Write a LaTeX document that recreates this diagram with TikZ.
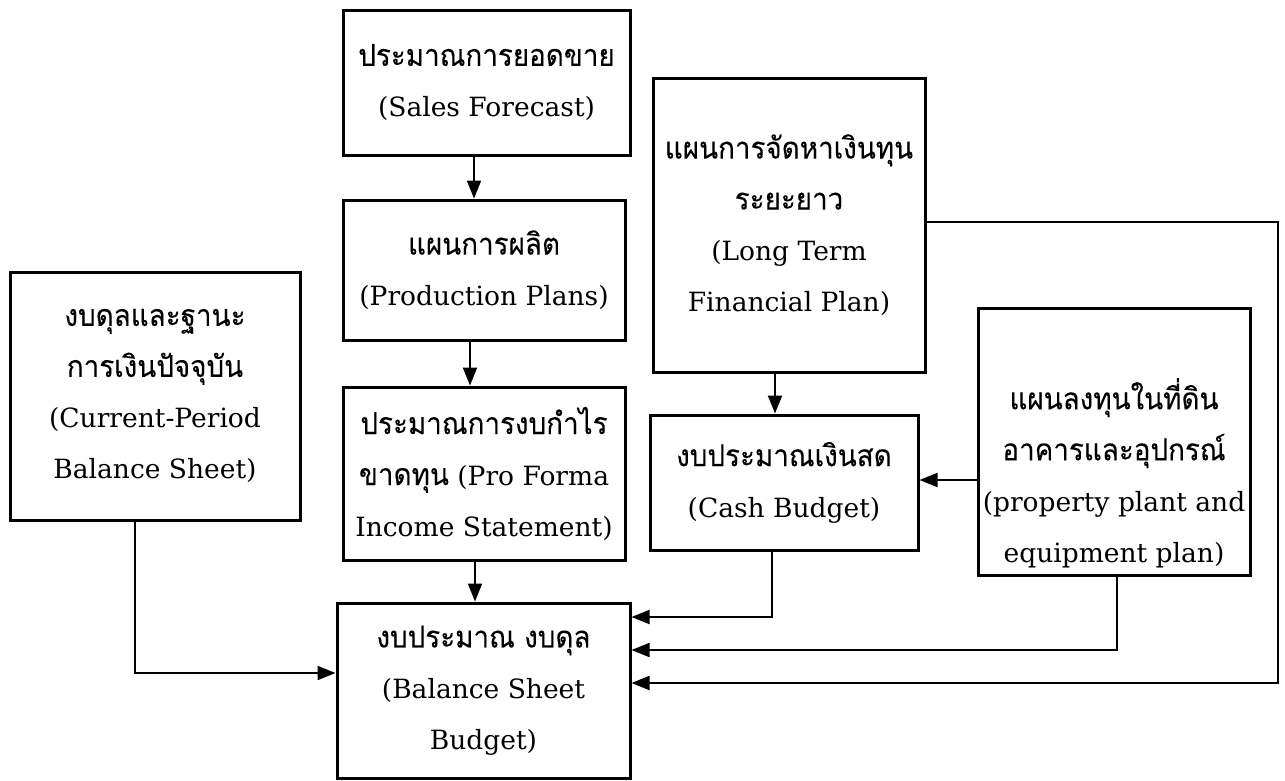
\documentclass[tikz,border=0pt]{standalone}
\usepackage{fontspec}
\setmainfont{DejaVu Serif}
\newfontfamily\thaifont[Script=Thai,Scale=1.14,FakeStretch=0.92,FakeBold=0.15]{Loma}
\usetikzlibrary{arrows.meta}
\newcommand{\thx}[1]{{\thaifont #1}}
\begin{document}
\begin{tikzpicture}[x=1pt,y=-1pt,
  box/.style={draw, line width=3pt, align=center, inner sep=0pt,
    font=\fontsize{26.5}{51}\selectfont},
  txt/.style={align=center, inner sep=0pt, font=\fontsize{26.5}{51}\selectfont},
  arr/.style={line width=2pt, -{Triangle[length=18pt,width=14pt]}}]
\path[fill=white,use as bounding box] (0,0) rectangle (1285,780);

\node[box, minimum width=287pt, minimum height=145pt] (sales) at (486.5,82.5)
  {\thx{ประมาณการยอดขาย}\\(Sales Forecast)};
\node[box, minimum width=282pt, minimum height=140pt] (prod) at (484,270)
  {\thx{แผนการผลิต}\\(Production Plans)};
\node[box, minimum width=282pt, minimum height=173pt] (pfi) at (484,473.5)
  {\thx{ประมาณการงบกำไร}\\\thx{ขาดทุน} (Pro Forma\\Income Statement)};
\node[box, minimum width=293pt, minimum height=175pt] (bsb) at (483.5,690.5)
  {\thx{งบประมาณ งบดุล}\\(Balance Sheet\\Budget)};
\node[box, minimum width=290pt, minimum height=248pt] (curr) at (155,396)
  {\thx{งบดุลและฐานะ}\\\thx{การเงินปัจจุบัน}\\(Current-Period\\Balance Sheet)};
\node[box, minimum width=272pt, minimum height=294pt] (lt) at (789,225)
  {\thx{แผนการจัดหาเงินทุน}\\\thx{ระยะยาว}\\(Long Term\\Financial Plan)};
\node[box, minimum width=268pt, minimum height=135pt] (cash) at (784,482.5)
  {\thx{งบประมาณเงินสด}\\(Cash Budget)};
\node[box, minimum width=272pt, minimum height=267pt] (ppe) at (1114,441.5) {};
\node[txt] (ppetxt) at (1114,473)
  {\thx{แผนลงทุนในที่ดิน}\\\thx{อาคารและอุปกรณ์}\\(property plant and\\equipment plan)};

\coordinate (ltcorner) at (1278,222);

\draw[arr] (sales.south -| 474,0) -- (prod.north -| 474,0);
\draw[arr] (prod.south -| 470,0) -- (pfi.north -| 470,0);
\draw[arr] (pfi.south -| 475,0) -- (bsb.north -| 475,0);
\draw[arr] (lt.south -| 775,0) -- (cash.north -| 775,0);
\draw[arr] (ppe.west |- 0,480) -- (cash.east |- 0,480);
\draw[arr] (curr.south -| 135,0) |- (bsb.west |- 0,673);
\draw[arr] (cash.south -| 772,0) |- (bsb.east |- 0,617);
\draw[arr] (ppe.south -| 1117,0) |- (bsb.east |- 0,650);
\draw[arr] (lt.east |- ltcorner) -- (ltcorner) |- (bsb.east |- 0,683);
\end{tikzpicture}
\end{document}
